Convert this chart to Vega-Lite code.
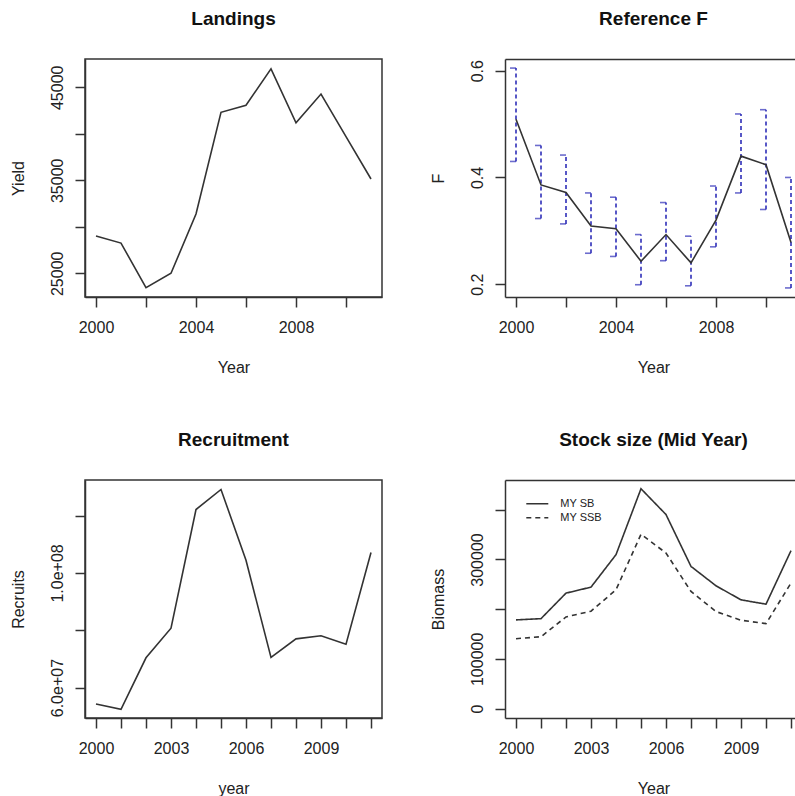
{
  "$schema": "https://vega.github.io/schema/vega-lite/v6.json",
  "padding": {"left": 9, "top": 8, "right": 0, "bottom": 0},
  "background": "white",
  "bounds": "flush",
  "columns": 2,
  "spacing": {"row": 183, "column": 123},
  "datasets": {
    "main": [
      {"year": 2000, "Yield": 29000, "F": 0.509, "Flo": 0.430, "Fhi": 0.605, "Recruits": 54300000, "MY SB": 178400, "MY SSB": 140600},
      {"year": 2001, "Yield": 28250, "F": 0.386, "Flo": 0.323, "Fhi": 0.460, "Recruits": 52400000, "MY SB": 181000, "MY SSB": 144600},
      {"year": 2002, "Yield": 23450, "F": 0.372, "Flo": 0.313, "Fhi": 0.442, "Recruits": 70400000, "MY SB": 232300, "MY SSB": 184400},
      {"year": 2003, "Yield": 25000, "F": 0.309, "Flo": 0.258, "Fhi": 0.371, "Recruits": 80700000, "MY SB": 244400, "MY SSB": 196000},
      {"year": 2004, "Yield": 31380, "F": 0.304, "Flo": 0.252, "Fhi": 0.363, "Recruits": 122100000, "MY SB": 309700, "MY SSB": 239000},
      {"year": 2005, "Yield": 42310, "F": 0.243, "Flo": 0.199, "Fhi": 0.293, "Recruits": 129100000, "MY SB": 442400, "MY SSB": 350700},
      {"year": 2006, "Yield": 43065, "F": 0.293, "Flo": 0.244, "Fhi": 0.353, "Recruits": 104400000, "MY SB": 390500, "MY SSB": 313100},
      {"year": 2007, "Yield": 46990, "F": 0.240, "Flo": 0.197, "Fhi": 0.290, "Recruits": 70500000, "MY SB": 286100, "MY SSB": 235600},
      {"year": 2008, "Yield": 41190, "F": 0.320, "Flo": 0.270, "Fhi": 0.384, "Recruits": 77000000, "MY SB": 247100, "MY SSB": 195200},
      {"year": 2009, "Yield": 44280, "F": 0.440, "Flo": 0.371, "Fhi": 0.519, "Recruits": 78100000, "MY SB": 218800, "MY SSB": 177800},
      {"year": 2010, "Yield": 39700, "F": 0.424, "Flo": 0.340, "Fhi": 0.527, "Recruits": 75100000, "MY SB": 210100, "MY SSB": 170900},
      {"year": 2011, "Yield": 35140, "F": 0.278, "Flo": 0.193, "Fhi": 0.400, "Recruits": 107100000, "MY SB": 317800, "MY SSB": 252500}
    ]
  },
  "config": {
    "font": "Liberation Sans",
    "view": {"stroke": "#333333", "strokeWidth": 1.5},
    "title": {"fontSize": 19, "fontWeight": "bold", "color": "#111111", "font": "Liberation Sans", "baseline": "alphabetic", "offset": 30.5, "anchor": "middle"},
    "axis": {
      "grid": false,
      "domainColor": "#333333", "domainWidth": 1.5,
      "tickColor": "#333333", "tickWidth": 1.5, "tickSize": 10,
      "labelFont": "Liberation Sans", "labelFontSize": 16, "labelColor": "#222222",
      "titleFont": "Liberation Sans", "titleFontSize": 16, "titleColor": "#222222", "titleFontWeight": "normal",
      "labelOverlap": false, "labelFlush": false, "labelBound": false
    },
    "axisX": {"labelBaseline": "alphabetic", "labelPadding": 25.7, "titleBaseline": "alphabetic", "titleY": 75.5},
    "axisY": {"labelAngle": -90, "labelAlign": "center", "labelBaseline": "alphabetic", "labelPadding": 13, "titleAngle": -90, "titleBaseline": "alphabetic", "titleX": -62, "titleAlign": "center"}
  },
  "concat": [
    {
      "title": {"text": "Landings"},
      "width": 297, "height": 238,
      "data": {"name": "main"},
      "mark": {"type": "line", "color": "#333333", "strokeWidth": 1.6},
      "encoding": {
        "x": {"field": "year", "type": "quantitative", "scale": {"domain": [1999.56, 2011.44], "nice": false, "zero": false},
              "axis": {"title": "Year", "values": [2000, 2002, 2004, 2006, 2008, 2010], "labelExpr": "datum.value % 4 == 0 ? format(datum.value, 'd') : ''"}},
        "y": {"field": "Yield", "type": "quantitative", "scale": {"domain": [22452, 48043], "nice": false, "zero": false},
              "axis": {"title": "Yield", "values": [25000, 30000, 35000, 40000, 45000], "labelExpr": "datum.value % 10000 == 5000 ? format(datum.value, 'd') : ''"}}
      }
    },
    {
      "title": {"text": "Reference F", "dx": 3.5},
      "width": 290, "height": 238,
      "data": {"name": "main"},
      "view": {"stroke": null},
      "layer": [
        {
          "layer": [
            {
              "mark": {"type": "rule", "color": "#2e2eb8", "strokeWidth": 1.6, "strokeDash": [4, 3]},
              "encoding": {
                "x": {"field": "year", "type": "quantitative"},
                "y": {"field": "Flo", "type": "quantitative"},
                "y2": {"field": "Fhi"}
              }
            },
            {
              "mark": {"type": "tick", "orient": "horizontal", "color": "#2e2eb8", "size": 6, "thickness": 1.6, "xOffset": -3},
              "encoding": {
                "x": {"field": "year", "type": "quantitative"},
                "y": {"field": "Fhi", "type": "quantitative"}
              }
            },
            {
              "mark": {"type": "tick", "orient": "horizontal", "color": "#2e2eb8", "size": 6, "thickness": 1.6, "xOffset": -3},
              "encoding": {
                "x": {"field": "year", "type": "quantitative"},
                "y": {"field": "Flo", "type": "quantitative"}
              }
            },
            {
              "mark": {"type": "line", "color": "#333333", "strokeWidth": 1.6},
              "encoding": {
                "x": {"field": "year", "type": "quantitative", "scale": {"domain": [1999.56, 2011.16], "nice": false, "zero": false},
                      "axis": {"title": "Year", "titleX": 148.5, "values": [2000, 2002, 2004, 2006, 2008, 2010], "labelExpr": "datum.value % 4 == 0 ? format(datum.value, 'd') : ''"}},
                "y": {"field": "F", "type": "quantitative", "scale": {"domain": [0.176, 0.622], "nice": false, "zero": false},
                      "axis": {"title": "F", "values": [0.2, 0.4, 0.6], "format": ".1f"}}
              }
            }
          ]
        },
        {
          "mark": {"type": "rule", "opacity": 0},
          "encoding": {
            "x": {"field": "year", "type": "quantitative", "scale": {"domain": [1999.56, 2011.16], "nice": false, "zero": false},
                  "axis": {"orient": "top", "labels": false, "ticks": false, "title": null, "domain": true}}
          }
        }
      ],
      "resolve": {"axis": {"x": "independent"}}
    },
    {
      "title": {"text": "Recruitment"},
      "width": 297, "height": 238,
      "data": {"name": "main"},
      "mark": {"type": "line", "color": "#333333", "strokeWidth": 1.6},
      "encoding": {
        "x": {"field": "year", "type": "quantitative", "scale": {"domain": [1999.56, 2011.44], "nice": false, "zero": false},
              "axis": {"title": "year", "values": [2000, 2001, 2002, 2003, 2004, 2005, 2006, 2007, 2008, 2009, 2010, 2011], "labelExpr": "(datum.value - 2000) % 3 == 0 ? format(datum.value, 'd') : ''"}},
        "y": {"field": "Recruits", "type": "quantitative", "scale": {"domain": [49400000, 132400000], "nice": false, "zero": false},
              "axis": {"title": "Recruits", "values": [60000000, 80000000, 100000000, 120000000], "labelExpr": "datum.value == 60000000 ? '6.0e+07' : datum.value == 100000000 ? '1.0e+08' : ''"}}
      }
    },
    {
      "title": {"text": "Stock size (Mid Year)", "dx": 3.5},
      "width": 290, "height": 238,
      "data": {"name": "main"},
      "view": {"stroke": null},
      "layer": [
        {
          "transform": [{"fold": ["MY SB", "MY SSB"], "as": ["series", "biomass"]}],
          "mark": {"type": "line", "color": "#333333", "strokeWidth": 1.6},
          "encoding": {
            "x": {"field": "year", "type": "quantitative", "scale": {"domain": [1999.56, 2011.16], "nice": false, "zero": false},
                  "axis": {"title": "Year", "titleX": 148.5, "values": [2000, 2001, 2002, 2003, 2004, 2005, 2006, 2007, 2008, 2009, 2010, 2011], "labelExpr": "(datum.value - 2000) % 3 == 0 ? format(datum.value, 'd') : ''"}},
            "y": {"field": "biomass", "type": "quantitative", "scale": {"domain": [-19000, 460000], "nice": false, "zero": false},
                  "axis": {"title": "Biomass", "values": [0, 100000, 200000, 300000, 400000], "labelExpr": "datum.value == 0 || datum.value == 100000 || datum.value == 300000 ? format(datum.value, 'd') : ''"}},
            "strokeDash": {"field": "series", "type": "nominal",
              "scale": {"domain": ["MY SB", "MY SSB"], "range": [[1, 0], [5, 4]]},
              "legend": {"title": null, "orient": "none", "legendX": 445.8, "legendY": 438.3, "padding": 0,
                         "symbolType": "M-2,0L2,0", "symbolSize": 121, "symbolStrokeWidth": 1.6, "symbolStrokeColor": "#333333",
                         "labelFontSize": 11, "labelColor": "#222222", "labelFont": "Liberation Sans", "labelOffset": 16.5, "rowPadding": 2}}
          }
        },
        {
          "mark": {"type": "rule", "opacity": 0},
          "encoding": {
            "x": {"field": "year", "type": "quantitative", "scale": {"domain": [1999.56, 2011.16], "nice": false, "zero": false},
                  "axis": {"orient": "top", "labels": false, "ticks": false, "title": null, "domain": true}}
          }
        }
      ],
      "resolve": {"axis": {"x": "independent"}}
    }
  ]
}
